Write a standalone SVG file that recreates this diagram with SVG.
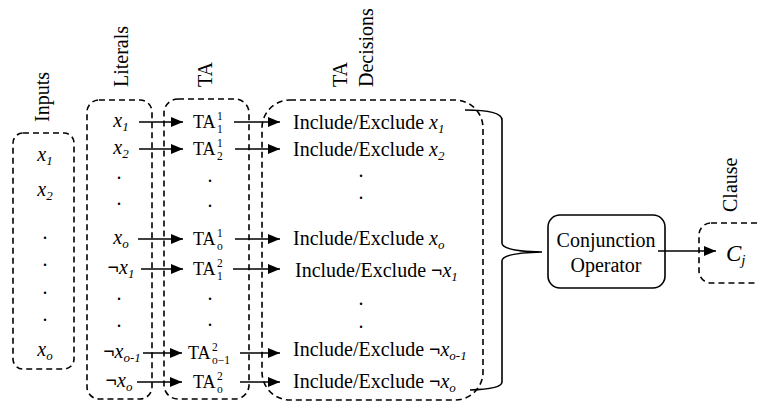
<svg xmlns="http://www.w3.org/2000/svg" width="758" height="403" viewBox="0 0 758 403">
<defs>
<style>
.t{font-family:"Liberation Serif","Times New Roman",Times,"DejaVu Serif",serif;font-size:20px;fill:#000}
.it{font-style:italic}
.sb{font-size:13px;font-style:italic}
.ss{font-size:11.5px}
.ng{font-weight:bold}
.box{fill:none;stroke:#000;stroke-width:1.6;stroke-dasharray:6 4}
.solid{fill:#fff;stroke:#000;stroke-width:1.6}
.ln{fill:none;stroke:#000;stroke-width:1.6}
.ta{font-family:"Liberation Serif","Times New Roman",Times,"DejaVu Serif",serif;font-size:18px;fill:#000}
.cj{font-family:"Liberation Serif","Times New Roman",Times,"DejaVu Serif",serif;font-size:23px;font-style:italic;fill:#000}
</style>
<marker id="ah" viewBox="0 0 12 10" refX="12" refY="5" markerWidth="12" markerHeight="10" markerUnits="userSpaceOnUse" orient="auto">
<path d="M0,0 L12,5 L0,10 z" fill="#000"/>
</marker>
</defs>
<rect width="758" height="403" fill="#fff"/>

<g id="inputs">
<rect class="box" x="13" y="133" width="61" height="236" rx="10"/>
<text class="t" transform="translate(49,122) rotate(-90)">Inputs</text>
<text class="t" x="45" y="161" text-anchor="middle"><tspan class="it">x</tspan><tspan class="sb" dy="4">1</tspan></text>
<text class="t" x="45" y="196" text-anchor="middle"><tspan class="it">x</tspan><tspan class="sb" dy="4">2</tspan></text>
<text class="t" x="45" y="239" text-anchor="middle">.</text>
<text class="t" x="45" y="266" text-anchor="middle">.</text>
<text class="t" x="45" y="294" text-anchor="middle">.</text>
<text class="t" x="45" y="321" text-anchor="middle">.</text>
<text class="t" x="45" y="356" text-anchor="middle"><tspan class="it">x</tspan><tspan class="sb" dy="4">o</tspan></text>
</g>

<g id="literals">
<rect class="box" x="87" y="100" width="65" height="299" rx="12"/>
<text class="t" transform="translate(128,87) rotate(-90)">Literals</text>
<text class="t" x="121" y="127" text-anchor="middle"><tspan class="it">x</tspan><tspan class="sb" dy="4">1</tspan></text>
<text class="t" x="121" y="154" text-anchor="middle"><tspan class="it">x</tspan><tspan class="sb" dy="4">2</tspan></text>
<text class="t" x="119" y="179" text-anchor="middle">.</text>
<text class="t" x="119" y="205" text-anchor="middle">.</text>
<text class="t" x="121" y="244" text-anchor="middle"><tspan class="it">x</tspan><tspan class="sb" dy="4">o</tspan></text>
<text class="t" x="121" y="274" text-anchor="middle"><tspan class="ng">¬</tspan><tspan class="it">x</tspan><tspan class="sb" dy="4">1</tspan></text>
<text class="t" x="119" y="300" text-anchor="middle">.</text>
<text class="t" x="119" y="327" text-anchor="middle">.</text>
<text class="t" x="122" y="358" text-anchor="middle"><tspan class="ng">¬</tspan><tspan class="it">x</tspan><tspan class="sb" dy="4">o-1</tspan></text>
<text class="t" x="119" y="387" text-anchor="middle"><tspan class="ng">¬</tspan><tspan class="it">x</tspan><tspan class="sb" dy="4">o</tspan></text>
</g>

<g id="ta">
<rect class="box" x="164" y="99" width="85" height="300" rx="14"/>
<text class="t" transform="translate(212,87) rotate(-90)">TA</text>
<text class="ta" x="193" y="128">TA<tspan class="ss" x="217" y="120">1</tspan><tspan class="ss" x="217" y="133">1</tspan></text>
<text class="ta" x="193" y="155">TA<tspan class="ss" x="217" y="147">1</tspan><tspan class="ss" x="217" y="160">2</tspan></text>
<text class="t" x="210" y="182" text-anchor="middle">.</text>
<text class="t" x="210" y="207" text-anchor="middle">.</text>
<text class="ta" x="193" y="245">TA<tspan class="ss" x="217" y="237">1</tspan><tspan class="ss" x="217" y="250">o</tspan></text>
<text class="ta" x="193" y="275">TA<tspan class="ss" x="217" y="267">2</tspan><tspan class="ss" x="217" y="280">1</tspan></text>
<text class="t" x="210" y="300" text-anchor="middle">.</text>
<text class="t" x="210" y="326" text-anchor="middle">.</text>
<text class="ta" x="188" y="359">TA<tspan class="ss" x="212" y="351">2</tspan><tspan class="ss" x="212" y="364">o−1</tspan></text>
<text class="ta" x="193" y="388">TA<tspan class="ss" x="217" y="380">2</tspan><tspan class="ss" x="217" y="393">o</tspan></text>
</g>

<g id="decisions">
<rect class="box" x="262" y="100" width="221" height="300" rx="28"/>
<text class="t" transform="translate(347,87) rotate(-90)">TA</text>
<text class="t" transform="translate(373,87) rotate(-90)">Decisions</text>
<text class="t" x="293" y="129">Include/Exclude <tspan class="it">x</tspan><tspan class="sb" dy="4">1</tspan></text>
<text class="t" x="293" y="156">Include/Exclude <tspan class="it">x</tspan><tspan class="sb" dy="4">2</tspan></text>
<text class="t" x="361" y="177" text-anchor="middle">.</text>
<text class="t" x="361" y="199" text-anchor="middle">.</text>
<text class="t" x="293" y="245">Include/Exclude <tspan class="it">x</tspan><tspan class="sb" dy="4">o</tspan></text>
<text class="t" x="295" y="277">Include/Exclude <tspan class="ng">¬</tspan><tspan class="it">x</tspan><tspan class="sb" dy="4">1</tspan></text>
<text class="t" x="361" y="305" text-anchor="middle">.</text>
<text class="t" x="361" y="328" text-anchor="middle">.</text>
<text class="t" x="293" y="356">Include/Exclude <tspan class="ng">¬</tspan><tspan class="it">x</tspan><tspan class="sb" dy="4">o-1</tspan></text>
<text class="t" x="293" y="388">Include/Exclude <tspan class="ng">¬</tspan><tspan class="it">x</tspan><tspan class="sb" dy="4">o</tspan></text>
</g>

<g id="conjunction">
<rect class="solid" x="548" y="215" width="117" height="73" rx="12"/>
<text class="t" x="606" y="247" text-anchor="middle">Conjunction</text>
<text class="t" x="606" y="272" text-anchor="middle">Operator</text>
</g>

<g id="clause">
<rect class="box" x="699" y="223" width="74" height="60" rx="12"/>
<text class="t" transform="translate(737,212) rotate(-90)">Clause</text>
<text class="cj" x="726" y="261">C<tspan font-size="15" dy="4">j</tspan></text>
</g>

<g id="connectors">
<line class="ln" x1="139" y1="122" x2="183" y2="122" marker-end="url(#ah)"/>
<line class="ln" x1="139" y1="149" x2="183" y2="149" marker-end="url(#ah)"/>
<line class="ln" x1="138" y1="239" x2="183" y2="239" marker-end="url(#ah)"/>
<line class="ln" x1="141" y1="269" x2="183" y2="269" marker-end="url(#ah)"/>
<line class="ln" x1="143" y1="353" x2="182" y2="353" marker-end="url(#ah)"/>
<line class="ln" x1="137" y1="382" x2="182" y2="382" marker-end="url(#ah)"/>
<line class="ln" x1="234" y1="122" x2="280" y2="122" marker-end="url(#ah)"/>
<line class="ln" x1="235" y1="149" x2="280" y2="149" marker-end="url(#ah)"/>
<line class="ln" x1="235" y1="239" x2="280" y2="239" marker-end="url(#ah)"/>
<line class="ln" x1="233" y1="269" x2="280" y2="269" marker-end="url(#ah)"/>
<line class="ln" x1="240" y1="353" x2="280" y2="353" marker-end="url(#ah)"/>
<line class="ln" x1="240" y1="382" x2="280" y2="382" marker-end="url(#ah)"/>
<path class="ln" d="M465,110 Q502,110 502,120 L502,243 Q502,251 542,252 Q502,253 502,261 L502,382 Q502,389 470,390"/>
<line class="ln" x1="658" y1="251" x2="716" y2="251" marker-end="url(#ah)"/>
</g>
</svg>
